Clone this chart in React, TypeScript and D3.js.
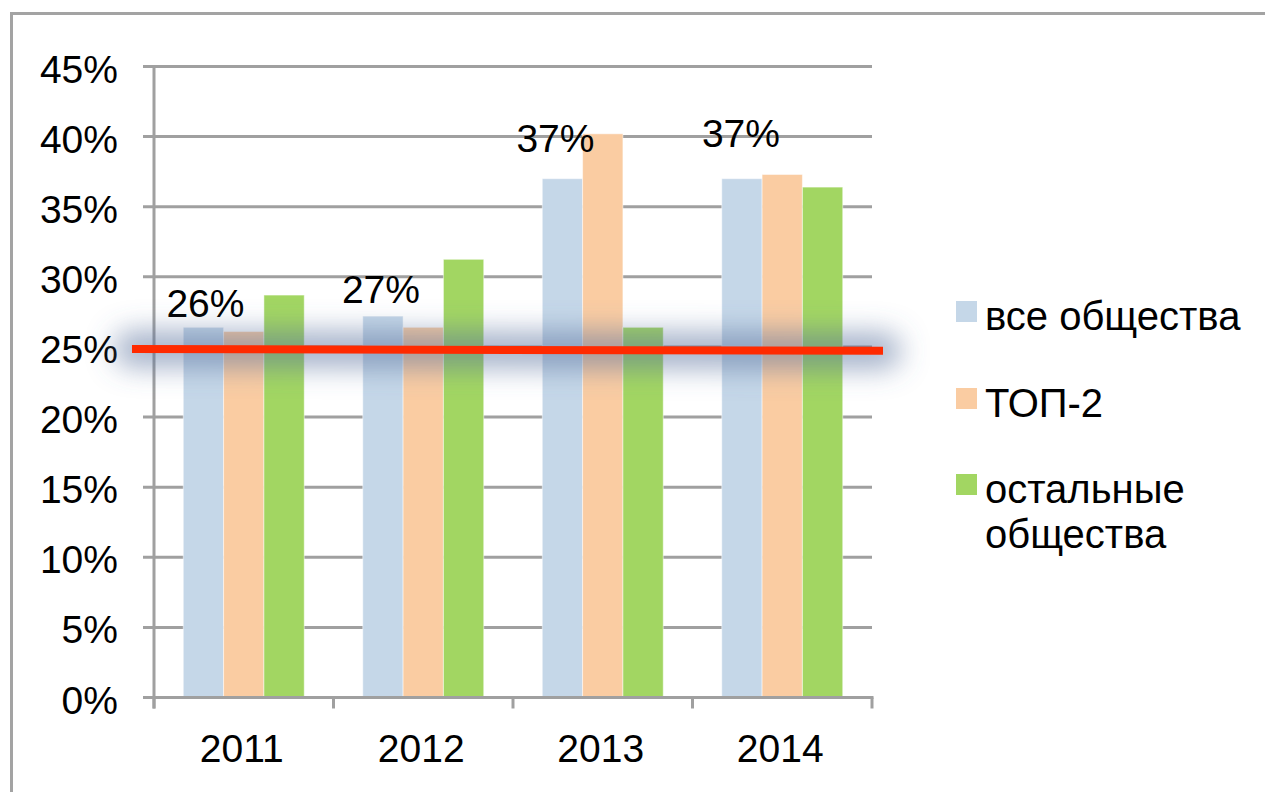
import React from "react";
import * as d3 from "d3";

const years = ["2011", "2012", "2013", "2014"];
const seriesNames = ["все общества", "ТОП-2", "остальные общества"];
const allCompanies = [26.4, 27.2, 37.0, 37.0];
const top2 = [26.1, 26.4, 40.2, 37.3];
const otherCompanies = [28.7, 31.25, 26.4, 36.4];
const blueLabels = ["26%", "27%", "37%", "37%"];
const labelNudgeX = [2, -2, -7, -1];
const labelGap = [10, 13, 27, 32];
const yTicks = [0, 5, 10, 15, 20, 25, 30, 35, 40, 45];
const refLineStart = 24.86;
const refLineEnd = 24.72;

const colors = ["#c5d7e8", "#facca2", "#a2d662"];
const FONT = "'Liberation Sans', Arial, sans-serif";

export default function App() {
  const W = 1265;
  const H = 792;
  const x0 = 154;
  const x1 = 872;
  const yBottom = 697.5;
  const yTop = 66.5;

  const x = d3.scaleBand<string>().domain(years).range([x0, x1]).padding(0);
  const bw = x.bandwidth();
  const inner = d3
    .scaleBand<string>()
    .domain(seriesNames)
    .range([bw * 0.163, bw * 0.837])
    .padding(0);
  const y = d3.scaleLinear().domain([0, 45]).range([yBottom, yTop]);

  const series = [allCompanies, top2, otherCompanies];

  const refLine = d3.line<[number, number]>()([
    [x0 - 22, y(refLineStart)],
    [x1 + 11, y(refLineEnd)],
  ]);

  return (
    <svg
      width={W}
      height={H}
      style={{ position: "absolute", left: 0, top: 0, background: "#fff" }}
      fontFamily={FONT}
    >
      <defs>
        <filter id="glow" filterUnits="userSpaceOnUse" x={0} y={200} width={W} height={300}>
          <feGaussianBlur stdDeviation="14" />
        </filter>
      </defs>
      {/* outer frame */}
      <path d={`M11.5,${H + 5} L11.5,13.5 L${W + 5},13.5`} fill="none" stroke="#a3a3a3" strokeWidth={3} />

      {/* gridlines & y ticks */}
      {yTicks.map((t) => (
        <g key={t}>
          <line x1={x0 - 11} x2={x1} y1={y(t)} y2={y(t)} stroke="#a0a0a0" strokeWidth={3} />
          <text x={118} y={y(t) + 16} textAnchor="end" fontSize={39} fill="#000">
            {t}%
          </text>
        </g>
      ))}

      {/* bars */}
      {years.map((yr, i) => (
        <g key={yr} transform={`translate(${x(yr)},0)`}>
          {seriesNames.map((s, j) => (
            <rect
              key={s}
              x={inner(s)}
              y={y(series[j][i])}
              width={inner.bandwidth()}
              height={y(0) - y(series[j][i])}
              fill={colors[j]}
              stroke="#ffffff"
              strokeOpacity={0.5}
              strokeWidth={1}
            />
          ))}
        </g>
      ))}

      {/* axes */}
      <line x1={x0} x2={x0} y1={yTop - 1.5} y2={yBottom + 11} stroke="#a0a0a0" strokeWidth={3} />
      <line x1={x0 - 11} x2={x1 + 1.5} y1={yBottom} y2={yBottom} stroke="#a0a0a0" strokeWidth={3} />
      {[...years.map((yr) => x(yr) as number), x1].map((v, i) => (
        <line key={i} x1={v} x2={v} y1={yBottom} y2={yBottom + 11} stroke="#a0a0a0" strokeWidth={3} />
      ))}
      {years.map((yr) => (
        <text
          key={yr}
          x={(x(yr) as number) + bw / 2 - 2}
          y={762}
          textAnchor="middle"
          fontSize={39}
          fill="#000"
        >
          {yr}
        </text>
      ))}

      {/* data labels on first series */}
      {years.map((yr, i) => (
        <text
          key={yr}
          x={(x(yr) as number) + (inner(seriesNames[0]) as number) + inner.bandwidth() / 2 + labelNudgeX[i]}
          y={y(allCompanies[i]) - labelGap[i]}
          textAnchor="middle"
          fontSize={39}
          fill="#000"
        >
          {blueLabels[i]}
        </text>
      ))}

      {/* reference line with glow */}
      <path d={refLine as string} stroke="#56709a" strokeOpacity={0.55} strokeWidth={36} strokeLinecap="round" fill="none" filter="url(#glow)" />
      <path d={refLine as string} stroke="#ff2a00" strokeWidth={8} fill="none" />

      {/* legend */}
      {seriesNames.map((s, j) => {
        const top = [301, 388, 474][j];
        const lines = j === 2 ? ["остальные", "общества"] : [s];
        return (
          <g key={s}>
            <rect x={956} y={top} width={21} height={21} fill={colors[j]} />
            {lines.map((ln, k) => (
              <text key={k} x={985} y={top + 29 + k * 45} fontSize={40} fill="#000">
                {ln}
              </text>
            ))}
          </g>
        );
      })}
    </svg>
  );
}
